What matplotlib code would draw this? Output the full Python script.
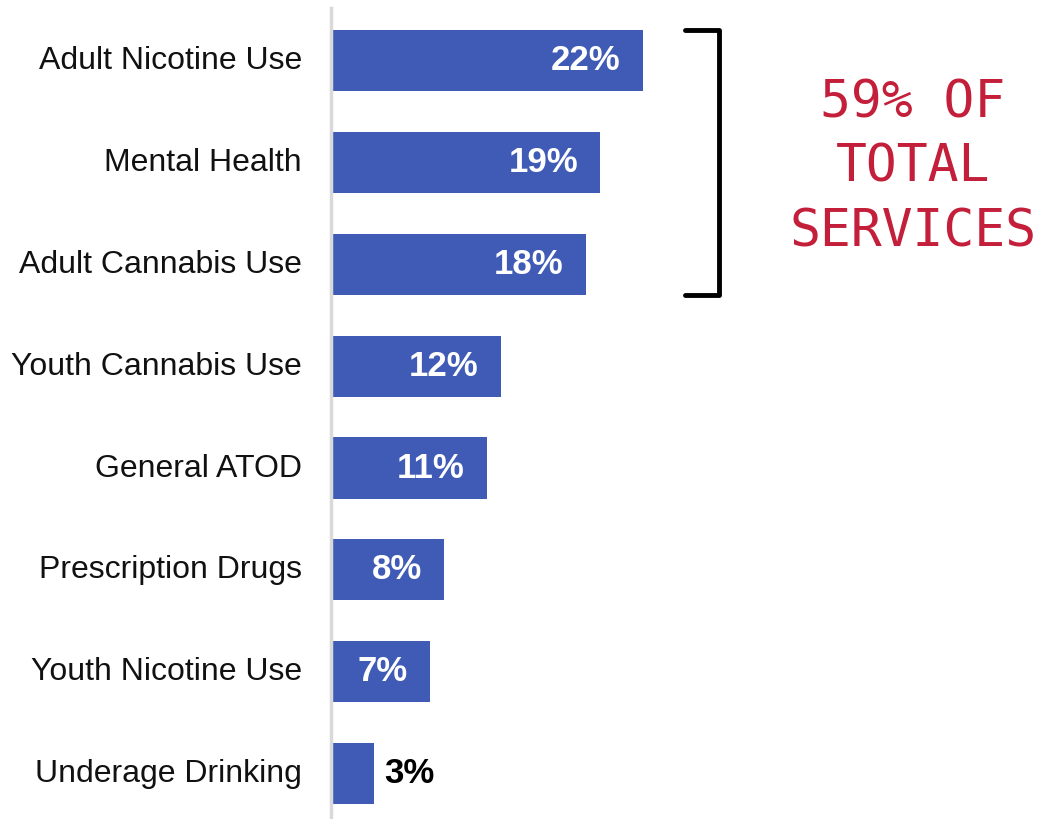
import matplotlib.pyplot as plt
from matplotlib.transforms import ScaledTranslation

# Dados do gráfico
categories = ["Adult Nicotine Use", "Mental Health", "Adult Cannabis Use",
              "Youth Cannabis Use", "General ATOD", "Prescription Drugs",
              "Youth Nicotine Use", "Underage Drinking"]
values = [22, 19, 18, 12, 11, 8, 7, 3]
value_labels = ["22%", "19%", "18%", "12%", "11%", "8%", "7%", "3%"]
callout_text = "59% OF\nTOTAL\nSERVICES"
bracket_span = (0, 2)  # primeira e última barra do colchete

bar_color = "#3F5BB5"
red = "#C41F3A"

fig = plt.figure(figsize=(10.42, 8.19), dpi=100)
ax = fig.add_axes([331 / 1042, 0, 340 / 1042, 811 / 819])

y = list(range(len(categories)))
ax.barh(y, values, height=0.6, color=bar_color)
ax.set_ylim(7.445, -0.515)
ax.set_xlim(0, 24)

ax.set_yticks(y)
ax.set_yticklabels(categories, fontsize=23, family="Liberation Sans", color="#111111")
ax.tick_params(axis="y", length=0, pad=21)
# sobe um pouco os rótulos, como no original
shift = ScaledTranslation(0, 3 / 100, fig.dpi_scale_trans)
for lab in ax.get_yticklabels():
    lab.set_transform(lab.get_transform() + shift)
ax.set_xticks([])
for side in ["top", "right", "bottom"]:
    ax.spines[side].set_visible(False)
ax.spines["left"].set_color("#D9D9D9")
ax.spines["left"].set_linewidth(2.5)

# Rótulos de valor: dentro da barra, exceto a menor
for i, (v, lab) in enumerate(zip(values, value_labels)):
    if v > 5:
        ax.annotate(lab, (v, i), xytext=(-16, 0), textcoords="offset points",
                    ha="right", va="center", color="white", fontsize=25,
                    fontweight="bold", family="Liberation Sans")
    else:
        ax.annotate(lab, (v, i), xytext=(8, 0), textcoords="offset points",
                    ha="left", va="center", color="black", fontsize=25,
                    fontweight="bold", family="Liberation Sans")

# Colchete
top = bracket_span[0] - 0.3
bot = bracket_span[1] + 0.3
ax.plot([25.0, 27.4, 27.4, 25.0], [top, top, bot, bot], color="black",
        lw=3.5, solid_capstyle="round", solid_joinstyle="round", clip_on=False)

fig.text(913 / 1042, 1 - 168 / 819, callout_text, ha="center", va="center",
         color=red, fontsize=37, family="DejaVu Sans Mono", linespacing=1.38)

fig.savefig("out.png", dpi=100)
